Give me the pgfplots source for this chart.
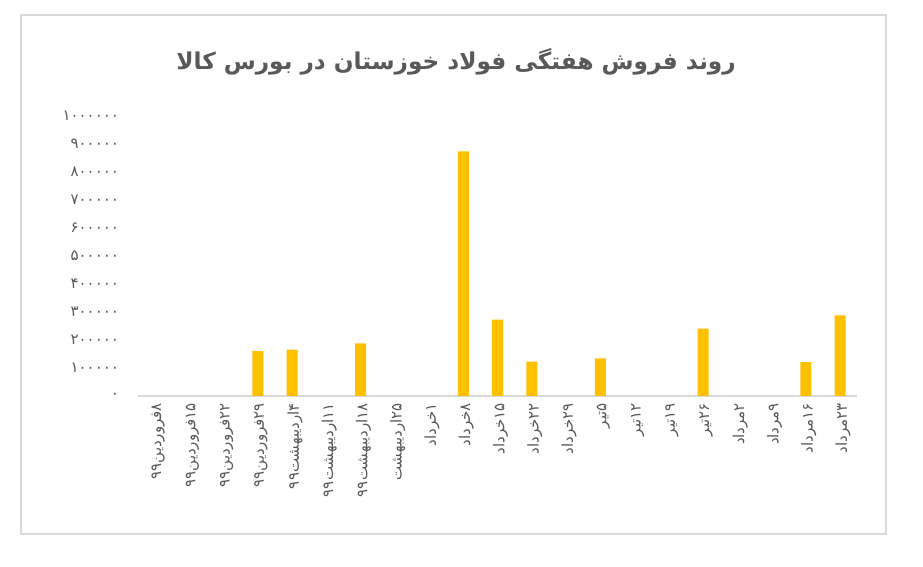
\documentclass[border=0pt]{standalone}
\usepackage{pgfplots}
\pgfplotsset{compat=1.18}
\usepackage{fontspec}
\TeXXeTstate=1
\newfontfamily\arabicfont[Script=Arabic]{DejaVu Sans}
\newcommand{\fa}[1]{\beginR #1\endR}
\definecolor{barc}{HTML}{FFC000}
\definecolor{txt}{HTML}{595959}
\definecolor{frm}{HTML}{D9D9D9}
\begin{document}
\begin{tikzpicture}
\fill[white] (0,0) rectangle (461.5pt,283.5pt);
\useasboundingbox (0,0) rectangle (461.5pt,283.5pt);
\draw[frm, line width=0.8pt] (10.5pt,16.5pt) rectangle (443pt,276pt);
\node[text=txt, font=\arabicfont\bfseries\fontsize{11.6}{14}\selectfont] at (228pt,252.5pt) {\fa{روند فروش هفتگی فولاد خوزستان در بورس کالا}};
\begin{axis}[
  scale only axis, width=359.6pt, height=140pt,
  at={(69pt,85.5pt)}, anchor=south west,
  ybar, bar width=5.5pt,
  xmin=0.5, xmax=21.5, ymin=0, ymax=1000000,
  axis x line=bottom, axis y line=left,
  x axis line style={-, draw=frm, line width=0.8pt},
  y axis line style={draw=none},
  major tick length=0pt,
  xtick={1,...,21},
  xticklabels={\fa{۸فروردین۹۹},\fa{۱۵فروردین۹۹},\fa{۲۲فروردین۹۹},\fa{۲۹فروردین۹۹},\fa{۴اردیبهشت۹۹},\fa{۱۱اردیبهشت۹۹},\fa{۱۸اردیبهشت۹۹},\fa{۲۵اردیبهشت},\fa{۱خرداد},\fa{۸خرداد},\fa{۱۵خرداد},\fa{۲۲خرداد},\fa{۲۹خرداد},\fa{۵تیر},\fa{۱۲تیر},\fa{۱۹تیر},\fa{۲۶تیر},\fa{۲مرداد},\fa{۹مرداد},\fa{۱۶مرداد},\fa{۲۳مرداد}},
  xticklabel style={rotate=90, anchor=east, text=txt, font=\arabicfont\fontsize{7.5}{9}\selectfont, yshift=-1.5pt},
  ytick={0,100000,200000,300000,400000,500000,600000,700000,800000,900000,1000000},
  yticklabels={۰,۱۰۰۰۰۰,۲۰۰۰۰۰,۳۰۰۰۰۰,۴۰۰۰۰۰,۵۰۰۰۰۰,۶۰۰۰۰۰,۷۰۰۰۰۰,۸۰۰۰۰۰,۹۰۰۰۰۰,۱۰۰۰۰۰۰},
  yticklabel style={text=txt, font=\arabicfont\fontsize{7.5}{9}\selectfont, xshift=-6pt},
  scaled y ticks=false,
  clip=false,
]
\addplot[fill=barc, draw=none] coordinates {
(4,160000) (5,166000) (7,188000) (10,874000) (11,273000) (12,123000)
(14,134000) (17,241000) (20,121000) (21,288000)
};
\end{axis}
\end{tikzpicture}
\end{document}
